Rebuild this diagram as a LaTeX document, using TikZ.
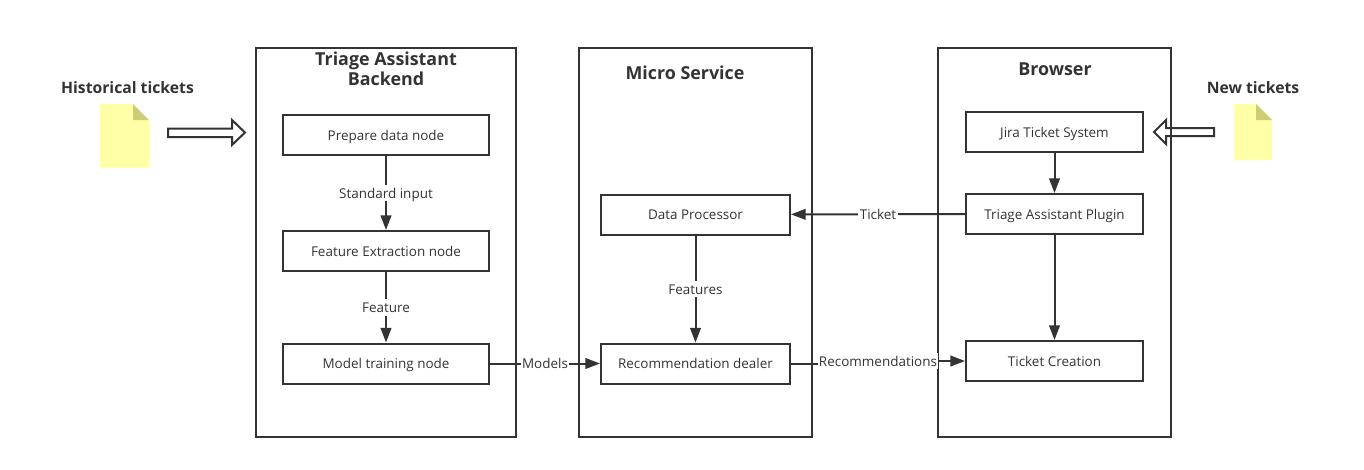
\documentclass[tikz,border=0pt]{standalone}
\usepackage{fontspec}
\setmainfont{Open Sans}
\usetikzlibrary{arrows.meta}
\definecolor{inkgrey}{HTML}{333333}
\definecolor{notepaper}{HTML}{FFFFA8}
\definecolor{notefold}{HTML}{CDCD78}
\tikzset{
    frame/.style={draw=inkgrey, line width=1.5pt, minimum height=291.75pt},
    stepbox/.style={draw=inkgrey, line width=1.5pt, minimum height=30pt, font=\fontsize{10.1}{12}\selectfont, text=inkgrey, inner sep=0pt, text height=9.2pt, text depth=1.4pt},
    title/.style={font=\fontsize{13.4}{15}\selectfont\bfseries, text=inkgrey, align=center, inner sep=0pt},
    sidetitle/.style={font=\fontsize{11.8}{15}\selectfont\bfseries, text=inkgrey, inner sep=0pt},
    flow/.style={draw=inkgrey, line width=1.5pt, -{Triangle[length=11pt,width=8pt]}},
    flowlabel/.style={fill=white, font=\fontsize{10.1}{12}\selectfont, text=inkgrey, inner sep=1pt, text height=9.2pt, text depth=1.4pt},
    hollow/.style={draw=inkgrey, line width=1.5pt, line join=miter}
}
\begin{document}
\begin{tikzpicture}[x=0.75pt,y=-0.75pt]
    \useasboundingbox (0,0) rectangle (1364,469);

    % outer frames
    \node [frame, minimum width=195pt] (backend) at (386,242.5) {};
    \node [frame, minimum width=174.75pt] (micro) at (695.5,242.5) {};
    \node [frame, minimum width=174.75pt] (browser) at (1054.5,242.5) {};

    \node [title] (backendtitle) at (386,69) {Triage Assistant\\Backend};
    \node [title] (microtitle) at (685,73) {Micro Service};
    \node [title] (browsertitle) at (1055,69) {Browser};
    \node [sidetitle] (histtitle) at (127.5,88) {Historical tickets};
    \node [sidetitle] (newtitle) at (1253,88) {New tickets};

    % ticket sheets
    \fill [notepaper] (100,104) -- (133,104) -- (149,120) -- (149,167) -- (100,167) -- cycle;
    \fill [notefold] (133,104) -- (149,120) -- (133,120) -- cycle;
    \fill [notepaper] (1234,104) -- (1256,104) -- (1272,120) -- (1272,160) -- (1234,160) -- cycle;
    \fill [notefold] (1256,104) -- (1272,120) -- (1256,120) -- cycle;

    % hollow arrows
    \draw [hollow] (168,128.5) -- (232,128.5) -- (232,120) -- (245,132.5) -- (232,145) -- (232,137) -- (168,137) -- cycle;
    \draw [hollow] (1214,128) -- (1166,128) -- (1166,120) -- (1154,132) -- (1166,144) -- (1166,136) -- (1214,136) -- cycle;

    % backend column
    \node [stepbox, minimum width=154.5pt] (prepare) at (386,135) {Prepare data node};
    \node [stepbox, minimum width=154.5pt] (extract) at (386,251) {Feature Extraction node};
    \node [stepbox, minimum width=154.5pt] (training) at (386,363.5) {Model training node};

    % service column
    \node [stepbox, minimum width=141.75pt] (processor) at (695.5,214.5) {Data Processor};
    \node [stepbox, minimum width=141.75pt] (dealer) at (695.5,363.5) {Recommendation dealer};

    % browser column
    \node [stepbox, minimum width=132.75pt] (jira) at (1054.5,132) {Jira Ticket System};
    \node [stepbox, minimum width=132.75pt] (plugin) at (1054.5,214) {Triage Assistant Plugin};
    \node [stepbox, minimum width=132.75pt] (creation) at (1054.5,361) {Ticket Creation};

    \coordinate (bend) at (878,361);

    \draw [flow] (prepare) -- node [flowlabel] {Standard input} (extract);
    \draw [flow] (extract) -- node [flowlabel] {Feature} (training);
    \draw [flow] (training) -- node [flowlabel] {Models} (dealer);
    \draw [flow] (processor) -- node [flowlabel] {Features} (dealer);
    \draw [flow] (plugin) -- node [flowlabel] {Ticket} (processor);
    \draw [flow] (jira) -- (plugin);
    \draw [flow] (plugin) -- (creation);
    \draw [draw=inkgrey, line width=1.5pt] (dealer.east) -| (bend);
    \draw [flow] (bend) -- (creation.west);
    \node [flowlabel] (reclabel) at (bend) {Recommendations};
\end{tikzpicture}
\end{document}
